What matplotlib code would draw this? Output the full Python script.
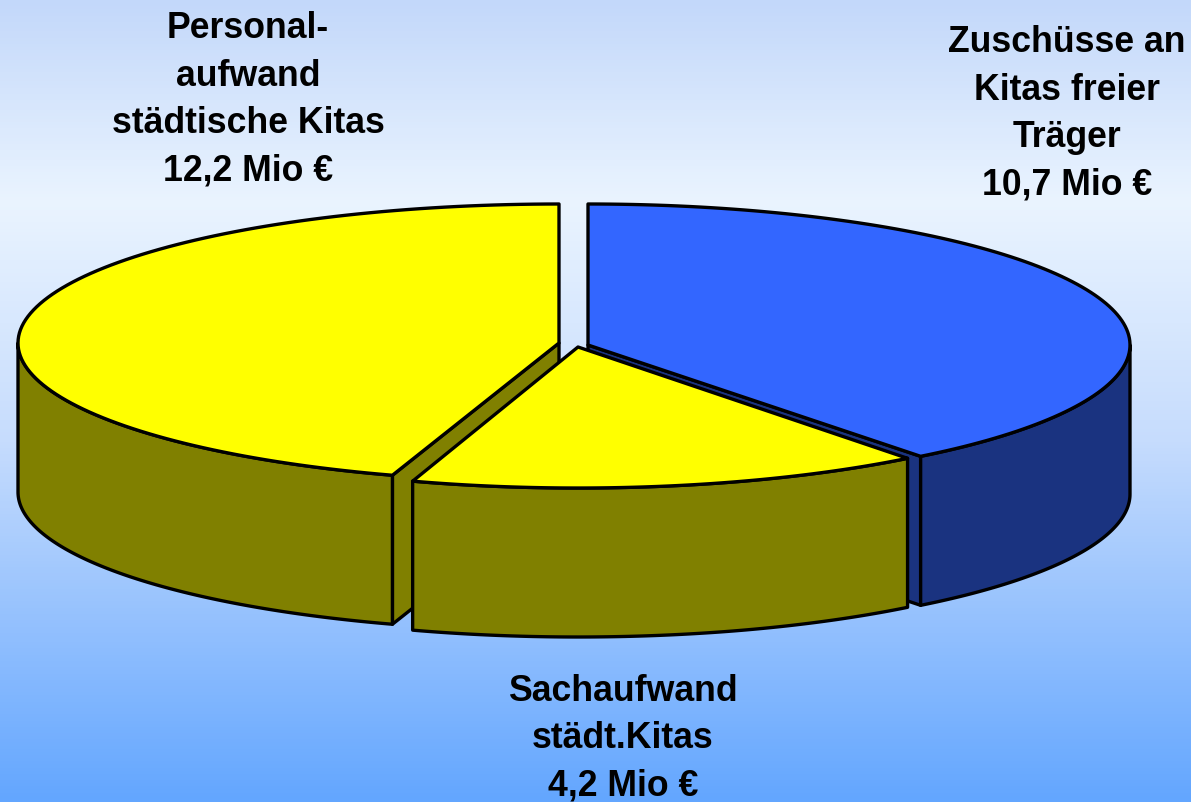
import numpy as np
import matplotlib
matplotlib.use('Agg')
from matplotlib import pyplot as plt
from matplotlib.colors import LinearSegmentedColormap
from matplotlib.patches import Polygon

# Mio EUR, clockwise from twelve o'clock
names = ['Zuschüsse an\nKitas freier\nTräger\n10,7 Mio €',
         'Sachaufwand\nstädt.Kitas\n4,2 Mio €',
         'Personal-\naufwand\nstädtische Kitas\n12,2 Mio €']
values = [10.7, 4.2, 12.2]
top_colors = ['#3366ff', '#ffff00', '#ffff00']
side_colors = ['#1a3380', '#808000', '#808000']
centers = [(588, 345), (578, 347), (559, 343)]
radii = [(542, 141), (537, 141), (541, 139)]
label_pos = [(1067, 114), (623, 739), (248, 100)]

depth = 149
lw = 2.4

plt.rcParams['font.family'] = ['Liberation Sans', 'DejaVu Sans']
fig = plt.figure(figsize=(11.91, 8.02), dpi=100)
ax = fig.add_axes([0, 0, 1, 1])
ax.set_xlim(0, 1191)
ax.set_ylim(802, 0)
ax.axis('off')

bg = LinearSegmentedColormap.from_list('bg', [(0, '#c3d8fa'), (0.25, '#eaf4ff'), (0.55, '#c6dcfd'), (1, '#63a6ff')])
ax.imshow(np.linspace(0, 1, 256).reshape(-1, 1), cmap=bg, aspect='auto', extent=(0, 1191, 802, 0), zorder=0)

# sweep angles in ellipse parameter, degrees, measured clockwise from the top
stops = np.concatenate(([0], np.cumsum(values))) / sum(values) * 360


def rim(i, a0, a1, n=120):
    cx, cy = centers[i]
    rx, ry = radii[i]
    t = np.radians(np.linspace(a0, a1, n))
    return cx + rx * np.sin(t), cy - ry * np.cos(t)


def edge(points, color, z):
    ax.add_patch(Polygon(points, closed=True, facecolor=color, edgecolor='black',
                         linewidth=lw, joinstyle='round', zorder=z))


# back to front: yellow, blue, then the small slice
for i, z in [(2, 2), (0, 4), (1, 6)]:
    cx, cy = centers[i]
    a0, a1 = stops[i], stops[i + 1]
    xs, ys = rim(i, a0, a1)

    # cut faces
    if i == 2:
        end = (xs[0], ys[0])
        edge([(cx, cy), end, (end[0], end[1] + depth), (cx, cy + depth)], side_colors[i], z)
    if i == 0:
        end = (xs[-1], ys[-1])
        edge([(cx, cy), end, (end[0], end[1] + depth), (cx, cy + depth)], side_colors[i], z)

    # outer wall, only the part facing the viewer
    v0, v1 = max(a0, 90), min(a1, 270)
    if v1 > v0:
        wx, wy = rim(i, v0, v1)
        wall = np.concatenate((np.c_[wx, wy], np.c_[wx[::-1], wy[::-1] + depth]))
        edge(wall, side_colors[i], z + 0.1)

    edge(np.concatenate(([(cx, cy)], np.c_[xs, ys])), top_colors[i], z + 0.2)

for name, (x, y) in zip(names, label_pos):
    ax.text(x, y, name, ha='center', va='center', fontsize=25.7, fontweight='bold',
            linespacing=1.46, color='black', zorder=10)

fig.savefig('out.png', dpi=100)
